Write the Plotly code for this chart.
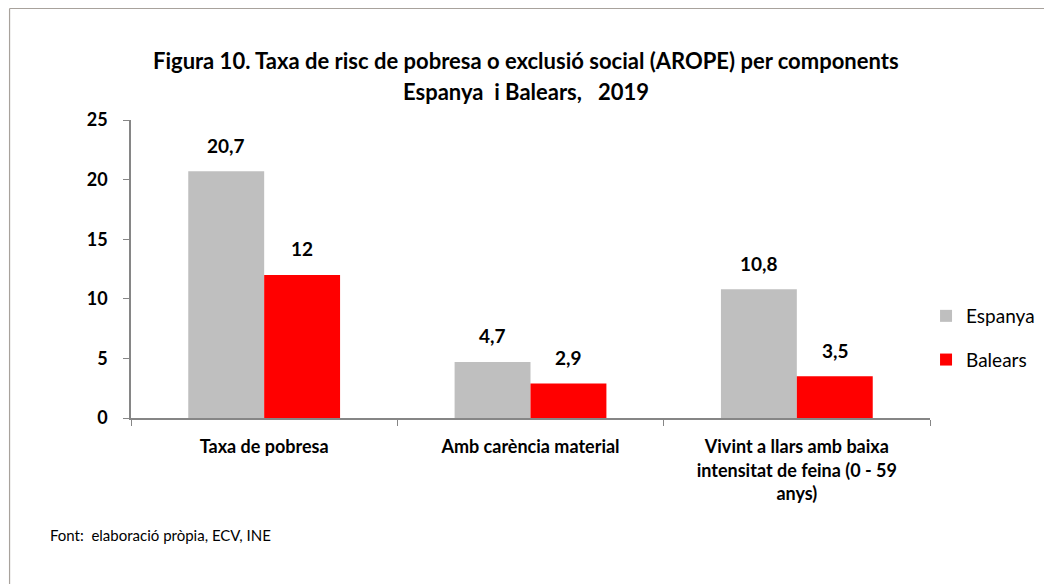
import plotly.graph_objects as go

categories = ["Taxa de pobresa", "Amb carència material",
              "Vivint a llars amb baixa<br>intensitat de feina (0 - 59<br>anys)"]
espanya = [20.7, 4.7, 10.8]
balears = [12.0, 2.9, 3.5]
series_names = ["Espanya", "Balears"]
y_ticks = [0, 5, 10, 15, 20, 25]

OFF = 8  # page offset of the figure
W, H = 1052 - OFF, 584 - OFF
L, T = 131 - OFF, 120 - OFF
PR, PB = 937 - OFF, 418 - OFF  # plot right / bottom in figure px
R, B = W - PR, H - PB
pw, ph = PR - L, PB - T

def fmt(v):
    s = ("%.1f" % v).replace(".", ",")
    return s[:-2] if s.endswith(",0") else s

def px(x):
    return (x - OFF - L) / pw

def py(y):
    return (PB - (y - OFF)) / ph

FONT = "Lato"
fig = go.Figure()
colors = ["#bfbfbf", "#ff0000"]
bargap = 0.43
for name, vals, col in zip(series_names, [espanya, balears], colors):
    fig.add_trace(go.Bar(x=categories, y=vals, name=name, marker_color=col,
                         marker_line_width=0, legendgroup=name))

group_px = pw / len(categories)
bar_px = group_px * (1 - bargap) / 2
for si, vals in enumerate([espanya, balears]):
    shift = (-0.5 + si) * bar_px
    for c, v in zip(categories, vals):
        fig.add_annotation(x=c, y=v, text=fmt(v), showarrow=False,
                           xshift=shift, yshift=26, yanchor="middle",
                           font=dict(size=19, color="black", family=FONT, weight="bold"))

fig.add_annotation(xref="paper", yref="paper", x=px(529), y=py(61),
                   text="Figura 10. Taxa de risc de pobresa o exclusió social (AROPE) per components",
                   showarrow=False, font=dict(size=22, family=FONT, color="black", weight="bold"),
                   xanchor="center", yanchor="middle")
fig.add_annotation(xref="paper", yref="paper", x=px(529), y=py(92),
                   text="Espanya  i Balears,   2019",
                   showarrow=False, font=dict(size=22, family=FONT, color="black", weight="bold"),
                   xanchor="center", yanchor="middle")
fig.add_annotation(xref="paper", yref="paper", x=px(47), y=py(535),
                   text="Font:  elaboració pròpia, ECV, INE", showarrow=False,
                   font=dict(size=15, family=FONT, color="black"),
                   xanchor="left", yanchor="middle")

# outer border (top and left edges visible)
bx = px(8.5)
by = py(8.5)
fig.add_shape(type="line", xref="paper", yref="paper", x0=bx, x1=px(1060),
              y0=by, y1=by, line=dict(color="#a8a29c", width=1.2))
fig.add_shape(type="line", xref="paper", yref="paper", x0=bx, x1=bx,
              y0=by, y1=py(600), line=dict(color="#a8a29c", width=1.2))

fig.update_layout(
    width=W, height=H, margin=dict(l=L, r=R, t=T, b=B),
    paper_bgcolor="white", plot_bgcolor="white",
    barmode="group", bargap=bargap, bargroupgap=0,
    font=dict(family=FONT, color="black"),
    showlegend=True,
    legend=dict(x=px(933), y=py(338), xanchor="left", yanchor="middle",
                font=dict(size=19, family=FONT, color="black"), itemwidth=30,
                tracegroupgap=16, bgcolor="rgba(0,0,0,0)"),
    xaxis=dict(showline=True, linecolor="#868686", linewidth=1.5, ticks="outside",
               tickson="boundaries", ticklen=6, tickcolor="#868686",
               tickfont=dict(size=18, family=FONT, color="black", weight="bold"),
               ticklabelstandoff=12, showgrid=False),
    yaxis=dict(range=[0, 25], tickvals=y_ticks, showline=True, linecolor="#868686",
               linewidth=1.5, ticks="outside", ticklen=6, tickcolor="#868686",
               tickfont=dict(size=18, family=FONT, color="black", weight="bold"),
               ticklabelstandoff=12, showgrid=False, zeroline=False),
)

fig.write_html("out.html")
